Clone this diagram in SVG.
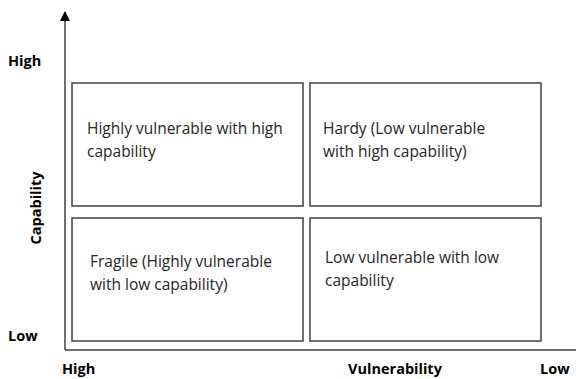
<svg xmlns="http://www.w3.org/2000/svg" width="576" height="379" viewBox="0 0 576 379">
<style>
.box{fill:#fff;stroke:#404040;stroke-width:1.5}
.axis{stroke:#404040;stroke-width:1.5;fill:none}
.t{font-family:"Open Sans","Liberation Sans",sans-serif;font-size:15.5px;fill:#262626}
.lab{font-family:"Open Sans","Liberation Sans",sans-serif;font-size:14.5px;font-weight:bold;fill:#000}
</style>
<defs>
<marker id="arr" markerWidth="10" markerHeight="10" refX="9" refY="5" orient="auto" markerUnits="userSpaceOnUse">
<path d="M0,0 L10,5 L0,10 Z" fill="#000"/>
</marker>
</defs>
<g id="connectors">
<path class="axis" d="M65,350 L65,12" marker-end="url(#arr)"/>
<path class="axis" d="M65,350 L576,350"/>
</g>
<g id="q1"><rect class="box" x="72" y="83" width="231" height="123"/>
<text class="t" x="87" y="134">Highly vulnerable with high</text>
<text class="t" x="87" y="157">capability</text></g>
<g id="q2"><rect class="box" x="310" y="83" width="231" height="123"/>
<text class="t" x="323" y="134">Hardy (Low vulnerable</text>
<text class="t" x="323" y="157">with high capability)</text></g>
<g id="q3"><rect class="box" x="72" y="218" width="231" height="123"/>
<text class="t" x="90" y="267">Fragile (Highly vulnerable</text>
<text class="t" x="90" y="290">with low capability)</text></g>
<g id="q4"><rect class="box" x="310" y="218" width="231" height="123"/>
<text class="t" x="325" y="263">Low vulnerable with low</text>
<text class="t" x="325" y="286">capability</text></g>
<g id="labels">
<text class="lab" x="8" y="66">High</text>
<text class="lab" x="8" y="341">Low</text>
<text class="lab" transform="translate(41,208) rotate(-90)" text-anchor="middle">Capability</text>
<text class="lab" x="62" y="374">High</text>
<text class="lab" x="395" y="374" text-anchor="middle">Vulnerability</text>
<text class="lab" x="540" y="374">Low</text>
</g>
</svg>
